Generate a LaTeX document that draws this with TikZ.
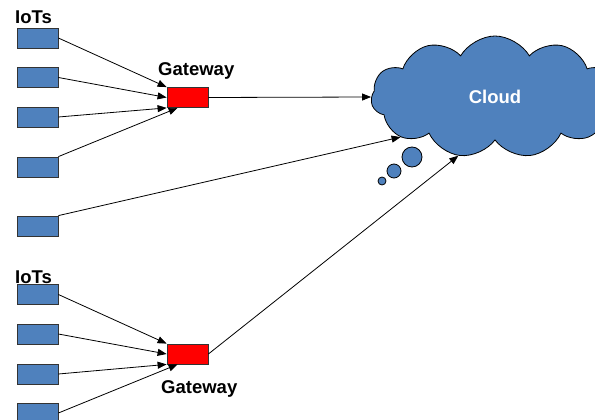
\documentclass[tikz,border=0pt]{standalone}
\usepackage{fontspec}
\setmainfont{Liberation Sans}
\usepackage{tikz}
\usetikzlibrary{arrows.meta}
\usetikzlibrary{shapes.symbols}
\usetikzlibrary{positioning}
\definecolor{iotblue}{RGB}{79,129,189}

\begin{document}
\begin{tikzpicture}[x=1pt,y=-1pt,
	iot/.style={draw=black!80,fill=iotblue,minimum width=41pt,minimum height=20pt,inner sep=0pt,line width=0.8pt},
	gw/.style={draw=black!80,fill=red,minimum width=41pt,minimum height=20pt,inner sep=0pt,line width=0.8pt},
	lbl/.style={font=\fontsize{18.5}{20}\selectfont\bfseries,inner sep=0pt,anchor=base west},
	link/.style={-{Triangle[length=9pt,width=7pt]},line width=0.8pt},
	bubble/.style={draw=black,fill=iotblue,line width=0.8pt}]
	\useasboundingbox (0,0) rectangle (595,420);
	% cloud
	\node[cloud,cloud puffs=11,cloud puff arc=120,aspect=2,draw=black,fill=iotblue,line width=0.8pt,
		minimum width=248pt,minimum height=122pt,text=white,font=\fontsize{18.5}{20}\selectfont\bfseries] (cloud) at (495,97) {Cloud};
	\draw[bubble] (412,157) circle[radius=10pt];
	\draw[bubble] (394,171) circle[radius=7pt];
	\draw[bubble] (382,181) circle[radius=4pt];
	% upper group
	\node[lbl] (iots1) at (15,24) {IoTs};
	\node[iot] (d1) at (37.5,38) {};
	\node[iot] (d2) at (37.5,77.5) {};
	\node[iot] (d3) at (37.5,117) {};
	\node[iot] (d4) at (37.5,167) {};
	\node[iot] (d5) at (37.5,226) {};
	\node[gw] (gw1) at (187.5,97.5) {};
	\node[lbl] (gwlbl1) at (158,76) {Gateway};
	% lower group
	\node[lbl] (iots2) at (15,283) {IoTs};
	\node[iot] (d6) at (37.5,294.5) {};
	\node[iot] (d7) at (37.5,334) {};
	\node[iot] (d8) at (37.5,374) {};
	\node[iot] (d9) at (37.5,413) {};
	\node[gw] (gw2) at (187.5,354) {};
	\node[lbl] (gwlbl2) at (161,393) {Gateway};
	% links
	\draw[link] (d1.east) -- (gw1.north west);
	\draw[link] (d2.east) -- (gw1.west);
	\draw[link] (d3.east) -- (gw1.south west);
	\draw[link] (d4.north east) -- ([xshift=11pt]gw1.south west);
	\draw[link] (gw1.east) -- (cloud.west);
	\draw[link] (d5.north east) -- (cloud.203);
	\draw[link] (d6.east) -- (gw2.north west);
	\draw[link] (d7.east) -- (gw2.west);
	\draw[link] (d8.east) -- (gw2.south west);
	\draw[link] (d9.east) -- ([xshift=11pt]gw2.south west);
	\draw[link] (gw2.east) -- (cloud.238);
\end{tikzpicture}
\end{document}
